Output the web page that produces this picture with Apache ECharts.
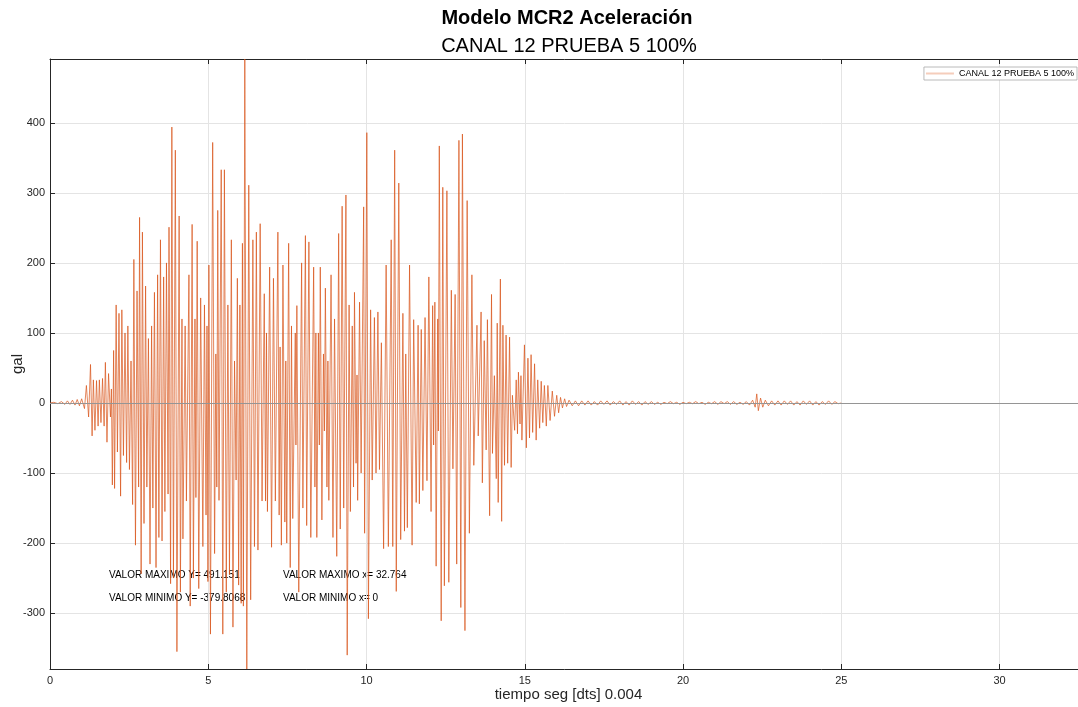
<!DOCTYPE html>
<html>
<head>
<meta charset="utf-8">
<script src="https://cdn.jsdelivr.net/npm/echarts@6/dist/echarts.min.js"></script>
<style>
  html, body { margin: 0; padding: 0; background: #ffffff; }
  #chart { width: 1078px; height: 707px; }
</style>
</head>
<body>
<div id="chart"></div>
<script>
// Acceleration record, channel 12, test 5 at 100 % (time in s, acceleration in gal)
const FONT = '"Liberation Sans", Arial, Helvetica, sans-serif';
const seriesName = 'CANAL 12 PRUEBA 5 100%';
const chartTitle = 'Modelo MCR2 Aceleración';
const xAxisName = 'tiempo seg [dts] 0.004';
const yAxisName = 'gal';

// Summary values printed on the plot
const maxY = 491.151;
const minY = -379.8068;
const maxX = 32.764;
const minX = 0;

// Quiet lead-in before the shaking starts
const preEvent = [
  [0.00,0],[0.12,1],[0.25,-1],[0.36,2],[0.47,-2],[0.55,3],[0.63,-2],[0.71,4],
  [0.79,-3],[0.86,5],[0.93,-4],[1.00,6]
];

// Strong-motion phase (successive peaks and troughs)
const strongMotion = [
  [1.09,-8],[1.15,25],[1.22,-20],[1.28,55],[1.33,-47],[1.37,33],[1.42,-39],[1.47,32],
  [1.52,-33],[1.56,33],[1.61,-28],[1.66,35],[1.71,-33],[1.75,58],[1.80,-56],[1.85,42],
  [1.91,-20],[1.94,20],[1.97,-117],[2.01,75],[2.04,-122],[2.09,140],[2.13,-70],[2.18,128],
  [2.23,-133],[2.27,133],[2.32,-75],[2.37,100],[2.42,-85],[2.46,110],[2.51,-95],[2.56,60],
  [2.61,-145],[2.65,205],[2.70,-203],[2.75,160],[2.80,-120],[2.83,265],[2.88,-244],[2.92,244],
  [2.97,-172],[3.02,167],[3.06,-120],[3.11,92],[3.16,-230],[3.21,110],[3.25,-150],[3.30,158],
  [3.35,-235],[3.40,183],[3.44,-192],[3.49,233],[3.54,-197],[3.59,180],[3.63,-155],[3.68,200],
  [3.73,-130],[3.76,251],[3.81,-258],[3.85,394],[3.90,-250],[3.96,361],[4.01,-355],[4.08,267],
  [4.12,-270],[4.17,120],[4.20,-194],[4.27,110],[4.31,-140],[4.39,183],[4.43,-290],[4.49,255],
  [4.53,-250],[4.58,120],[4.61,-135],[4.65,231],[4.70,-265],[4.76,150],[4.83,-205],[4.88,140],
  [4.93,-160],[4.96,110],[4.99,-255],[5.02,197],[5.07,-330],[5.14,372],[5.20,-215],[5.24,70],
  [5.27,-120],[5.30,275],[5.34,-139],[5.41,333],[5.46,-330],[5.51,333],[5.57,-270],[5.62,140],
  [5.67,-245],[5.73,233],[5.78,-320],[5.83,60],[5.88,-110],[5.92,178],[5.96,-260],[6.00,140],
  [6.04,-286],[6.08,228],[6.11,-290],[6.155,maxY],[6.218,minY],[6.28,311],[6.34,-281],[6.41,233],
  [6.46,-205],[6.52,244],[6.57,-210],[6.64,256],[6.70,-140],[6.77,156],[6.81,-140],[6.84,100],
  [6.87,-155],[6.94,194],[7.00,-206],[7.06,178],[7.12,-140],[7.20,244],[7.24,-160],[7.27,80],
  [7.31,-203],[7.36,197],[7.42,-170],[7.45,60],[7.48,-200],[7.54,228],[7.59,-235],[7.63,110],
  [7.67,-165],[7.75,100],[7.77,-60],[7.80,139],[7.86,-270],[7.95,200],[7.99,-150],[8.07,239],
  [8.11,-175],[8.18,230],[8.24,-192],[8.33,194],[8.37,-120],[8.40,100],[8.43,-192],[8.48,100],
  [8.51,-60],[8.54,194],[8.59,-167],[8.64,70],[8.67,-40],[8.70,164],[8.75,-120],[8.78,60],
  [8.81,-139],[8.88,183],[8.94,-192],[8.99,120],[9.06,-219],[9.12,242],[9.17,-180],[9.23,281],
  [9.28,-150],[9.35,297],[9.39,-360],[9.45,140],[9.49,-155],[9.55,110],[9.59,-120],[9.62,158],
  [9.67,-86],[9.70,40],[9.72,-139],[9.78,144],[9.83,-100],[9.91,280],[9.94,-186],[10.01,386],
  [10.06,-308],[10.13,133],[10.18,-110],[10.25,122],[10.30,-100],[10.36,130],[10.41,-95],[10.47,86],
  [10.54,-208],[10.62,197],[10.69,-205],[10.78,233],[10.83,-205],[10.89,361],[10.94,-269],[11.02,314],
  [11.08,-195],[11.15,128],[11.20,-183],[11.24,70],[11.29,-178],[11.36,197],[11.44,-203],[11.49,119],
  [11.57,-142],[11.63,111],[11.67,-144],[11.73,105],[11.78,-125],[11.85,122],[11.91,-111],[11.97,180],
  [12.04,-155],[12.09,139],[12.12,-60],[12.16,144],[12.20,-233],[12.25,120],[12.27,-40],[12.30,367],
  [12.36,-311],[12.41,308],[12.46,-261],[12.54,303],[12.60,-256],[12.68,161],[12.73,-94],[12.80,155],
  [12.85,-230],[12.92,375],[12.98,-292],[13.03,384],[13.11,-325],[13.18,289],[13.25,-186],[13.33,183],
  [13.39,-89],[13.49,111],[13.53,-47]
];

// Decaying coda
const coda = [
  [13.62,130],[13.66,-114],[13.72,89],[13.78,-67],[13.82,119],[13.89,-161],[13.95,155],[13.98,-72],
  [14.04,39],[14.10,-108],[14.13,114],[14.16,-142],[14.23,177],[14.27,-169],[14.31,111],[14.36,-89],
  [14.41,97],[14.46,-86],[14.52,94],[14.57,-92],[14.61,11],[14.68,-39],[14.73,33],[14.77,-44],
  [14.80,44],[14.85,-30],[14.88,39],[14.91,-53],[14.99,83],[15.05,-64],[15.10,64],[15.15,-50],
  [15.20,69],[15.25,-42],[15.31,56],[15.36,-53],[15.41,33],[15.47,-36],[15.52,31],[15.57,-28],
  [15.62,25],[15.68,-33],[15.73,25],[15.80,-25],[15.87,17],[15.94,-19],[16.01,11],[16.07,-14],
  [16.13,8],[16.19,-7],[16.26,6],[16.32,-5]
];

// Low-level free vibration until the end of the record
const tail = [
  [16.40,4],[16.50,-4],[16.60,3],[16.70,-4],[16.80,3],[16.90,-3],[17.00,3],[17.10,-3],
  [17.20,2],[17.30,-3],[17.40,3],[17.50,-2],[17.60,3],[17.70,-3],[17.80,2],[17.90,-2],
  [18.00,3],[18.10,-3],[18.20,2],[18.30,-3],[18.40,3],[18.50,-2],[18.60,2],[18.70,-3],
  [18.80,2],[18.90,-2],[19.00,2],[19.10,-2],[19.20,1],[19.30,-2],[19.40,1],[19.50,-1],
  [19.60,2],[19.70,-1],[19.80,1],[19.90,-2],[20.00,1],[20.10,-1],[20.20,1],[20.30,-1],
  [20.40,2],[20.50,-1],[20.60,1],[20.70,-2],[20.80,1],[20.90,-1],[21.00,2],[21.10,-2],
  [21.20,2],[21.30,-1],[21.40,2],[21.50,-2],[21.60,2],[21.70,-2],[21.80,1],[21.90,-2],
  [22.00,2],[22.10,-3],[22.20,4],[22.28,-6],[22.33,13],[22.38,-11],[22.45,7],[22.52,-6],
  [22.60,4],[22.70,-4],[22.80,3],[22.90,-3],[23.00,3],[23.10,-3],[23.20,3],[23.30,-2],
  [23.40,3],[23.50,-3],[23.60,2],[23.70,-3],[23.80,3],[23.90,-2],[24.00,3],[24.10,-3],
  [24.20,2],[24.30,-3],[24.40,2],[24.50,-2],[24.60,3],[24.70,-2],[24.80,2],[24.90,-1],
  [25.00,0]
];

const record = [].concat(preEvent, strongMotion, coda, tail);

const axisColor = '#262626';
const gridColor = '#e4e4e4';

const chart = echarts.init(document.getElementById('chart'), null, { renderer: 'canvas' });

const baseX = {
  type: 'value',
  min: minX,
  max: maxX,
  interval: 5,
  axisLine: { show: true, onZero: false, lineStyle: { color: axisColor, width: 1 } },
  axisTick: { show: true, inside: true, length: 5, lineStyle: { color: axisColor, width: 1 } }
};

chart.setOption({
  animation: false,
  backgroundColor: '#ffffff',
  title: [
    {
      text: chartTitle, left: 562, top: 3, textAlign: 'center',
      textStyle: { fontFamily: FONT, fontSize: 20, fontWeight: 'bold', color: '#000000' }
    },
    {
      text: seriesName, left: 564, top: 31, textAlign: 'center',
      textStyle: { fontFamily: FONT, fontSize: 20, fontWeight: 'normal', color: '#000000' }
    }
  ],
  legend: {
    right: 1, top: 67,
    padding: [2, 3, 2, 2],
    itemWidth: 28, itemHeight: 2, itemGap: 4,
    backgroundColor: '#ffffff',
    borderColor: '#a8a8a8', borderWidth: 0.8,
    textStyle: { fontFamily: FONT, fontSize: 9, color: '#000000' },
    data: [{ name: seriesName, icon: 'rect', itemStyle: { color: '#f5cdbb' } }]
  },
  grid: { left: 50, top: 59, width: 1037, height: 610, containLabel: false, outerBoundsMode: 'none' },
  xAxis: [
    Object.assign({}, baseX, {
      position: 'bottom',
      axisLabel: { color: axisColor, fontFamily: FONT, fontSize: 11, margin: 6, showMaxLabel: false },
      splitLine: { show: true, lineStyle: { color: gridColor, width: 1 } },
      name: xAxisName, nameLocation: 'middle', nameGap: 18, nameMoveOverlap: false,
      nameTextStyle: { fontFamily: FONT, fontSize: 15, color: axisColor }
    }),
    Object.assign({}, baseX, {
      position: 'top',
      axisLabel: { show: false },
      splitLine: { show: false }
    })
  ],
  yAxis: {
    type: 'value',
    min: minY,
    max: maxY,
    minInterval: 100,
    maxInterval: 100,
    axisLine: { show: true, onZero: false, lineStyle: { color: axisColor, width: 1 } },
    axisTick: { show: true, inside: true, length: 5, lineStyle: { color: axisColor, width: 1 } },
    axisLabel: { color: axisColor, fontFamily: FONT, fontSize: 11, margin: 5, showMinLabel: false, showMaxLabel: false },
    splitLine: { show: true, lineStyle: { color: gridColor, width: 1 } },
    name: yAxisName, nameLocation: 'middle', nameGap: 25, nameMoveOverlap: false,
    nameTextStyle: { fontFamily: FONT, fontSize: 15, color: axisColor }
  },
  series: [{
    name: seriesName,
    type: 'line',
    data: record,
    symbol: 'none',
    showSymbol: false,
    lineStyle: { color: '#D95319', width: 0.7 },
    itemStyle: { color: '#D95319' },
    markLine: {
      silent: true, symbol: 'none', label: { show: false },
      lineStyle: { color: '#959595', width: 1, type: 'solid' },
      data: [{ yAxis: 0 }]
    }
  }],
  graphic: [
    { type: 'text', left: 109, top: 570, style: { text: 'VALOR MAXIMO Y= ' + maxY, font: '10px ' + FONT, fill: '#000000' } },
    { type: 'text', left: 109, top: 593, style: { text: 'VALOR MINIMO Y= ' + minY, font: '10px ' + FONT, fill: '#000000' } },
    { type: 'text', left: 283, top: 570, style: { text: 'VALOR MAXIMO x= ' + maxX, font: '10px ' + FONT, fill: '#000000' } },
    { type: 'text', left: 283, top: 593, style: { text: 'VALOR MINIMO x= ' + minX, font: '10px ' + FONT, fill: '#000000' } }
  ]
});
</script>
</body>
</html>
